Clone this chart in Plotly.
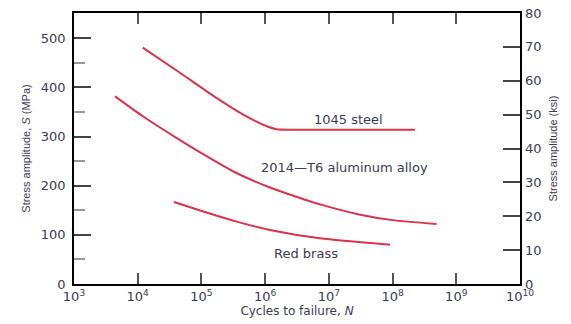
import math
import plotly.graph_objects as go

# Data (cycles N, stress amplitude S in MPa)
steel_N = [1.2e4, 4.6e4, 1.54e5, 5.1e5, 1.06e6, 1.52e6, 2.45e6, 2.24e8]
steel_S = [481, 430, 383, 341, 321, 315, 314, 314]

alu_N = [4.4e3, 1.22e4, 4.1e4, 1.36e5, 3.17e5, 1.06e6, 3.53e6, 7.3e6, 3.1e7, 1.0e8, 4.9e8]
alu_S = [382, 341, 297, 256, 229, 199, 175, 162, 141, 130, 122]

brass_N = [3.7e4, 1.07e5, 3.58e5, 1.19e6, 7.3e6, 9.1e7]
brass_S = [167, 147.6, 127, 110, 93, 80]

x_tickvals = [1e3, 1e4, 1e5, 1e6, 1e7, 1e8, 1e9, 1e10]
x_ticktext = ["10<sup>3</sup>", "10<sup>4</sup>", "10<sup>5</sup>", "10<sup>6</sup>",
              "10<sup>7</sup>", "10<sup>8</sup>", "10<sup>9</sup>", "10<sup>10</sup>"]
mpa_ticks = [0, 100, 200, 300, 400, 500]
ksi_ticks = [0, 10, 20, 30, 40, 50, 60, 70, 80]
KSI_TO_MPA = 6.895

labels = ["1045 steel", "2014—T6 aluminum alloy", "Red brass"]
label_N = [2.0e7, 1.75e7, 4.4e6]
label_S = [335, 237, 62]

RED = "#d8344c"
TXT = "#3b3b55"
TICKFONT = dict(family="DejaVu Sans", size=13, color=TXT)

fig = go.Figure()
for N, S in [(steel_N, steel_S), (alu_N, alu_S), (brass_N, brass_S)]:
    fig.add_trace(go.Scatter(x=N, y=S, mode="lines",
                             line=dict(color=RED, width=2, shape="spline", smoothing=0.6),
                             showlegend=False, hoverinfo="skip"))
# invisible trace to activate the ksi axis
fig.add_trace(go.Scatter(x=[1e3], y=[0], yaxis="y2", mode="markers",
                         marker=dict(opacity=0), showlegend=False, hoverinfo="skip"))

for t, xn, ys in zip(labels, label_N, label_S):
    fig.add_annotation(x=math.log10(xn), y=ys, text=t, showarrow=False,
                       font=dict(family="DejaVu Sans", size=13, color=TXT))

fig.update_layout(
    width=571, height=324,
    margin=dict(l=74, r=51, t=13, b=40),
    paper_bgcolor="white", plot_bgcolor="white",
    xaxis=dict(type="log", range=[3, 10], tickvals=x_tickvals, ticktext=x_ticktext,
               ticks="inside", ticklen=11, tickwidth=1.5, tickcolor="#555",
               showline=True, linecolor="black", linewidth=1.5, mirror="ticks",
               showgrid=False, zeroline=False, tickfont=TICKFONT, automargin=False,
               title=dict(text="Cycles to failure, <i>N</i>",
                          font=dict(family="DejaVu Sans", size=12, color=TXT), standoff=2)),
    yaxis=dict(range=[0, 80 * KSI_TO_MPA], tickvals=mpa_ticks,
               ticks="inside", ticklen=17, tickwidth=1.5, tickcolor="#444",
               minor=dict(dtick=50, ticks="inside", ticklen=11, tickcolor="#999", tickwidth=1.5),
               showline=True, linecolor="black", linewidth=1.5, mirror=True,
               showgrid=False, zeroline=False, tickfont=TICKFONT, automargin=False,
               ticklabelstandoff=4,
               title=dict(text="Stress amplitude, <i>S</i> (MPa)",
                          font=dict(family="Liberation Sans Narrow, Liberation Sans", size=11, color=TXT),
                          standoff=8)),
    yaxis2=dict(range=[0, 80], tickvals=ksi_ticks, overlaying="y", side="right",
                ticks="inside", ticklen=17, tickwidth=1.5, tickcolor="#444",
                showline=False, showgrid=False, zeroline=False, tickfont=TICKFONT,
                automargin=False, ticklabelstandoff=4,
                title=dict(text="Stress amplitude (ksi)",
                           font=dict(family="Liberation Sans Narrow, Liberation Sans", size=11, color=TXT),
                           standoff=8)),
)

fig.write_html("out.html", config={"displayModeBar": False},
               post_script="document.body.style.margin='0';document.body.style.overflow='hidden';")
